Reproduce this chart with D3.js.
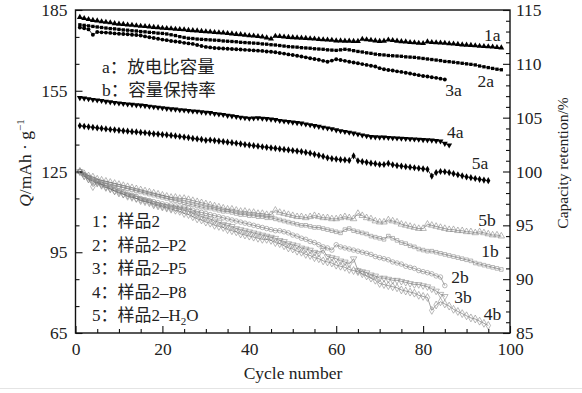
<!DOCTYPE html>
<html><head><meta charset="utf-8">
<script src="https://cdn.jsdelivr.net/npm/d3@7/dist/d3.min.js"></script>
<style>
html,body{margin:0;padding:0;background:#fff;}
text{font-family:'Liberation Serif','Times New Roman','Noto Sans CJK SC',serif;fill:#222;}
</style></head><body>
<svg id="c" width="582" height="393"></svg>
<script>
// ---- data ----
const xTicks = [0,20,40,60,80,100];
const yLeftTicks = [65,95,125,155,185];
const yRightTicks = [85,90,95,100,105,110,115];

// discharge specific capacity (mAh/g), cycle 1..N
const cap1a = [182.3,181.9,181.5,181.2,181.0,180.7,180.5,180.3,180.0,179.8,
179.7,179.5,179.4,179.2,179.0,178.9,178.8,178.6,178.5,178.3,
178.2,178.1,177.9,177.8,177.7,177.5,177.4,177.3,177.1,177.0,
176.9,176.7,176.6,176.5,176.3,176.2,176.0,175.9,175.7,175.5,
175.4,175.2,175.0,174.7,174.3,175.3,175.2,175.0,174.9,174.8,
174.7,174.6,174.5,174.4,174.3,174.1,174.0,173.9,173.8,173.6,
173.6,173.5,173.5,173.4,173.4,174.2,174.0,173.8,173.6,173.4,
173.5,173.9,173.7,173.5,173.3,173.2,173.0,172.9,172.7,172.6,
173.2,173.0,172.9,172.8,172.7,172.5,172.4,172.3,172.1,172.0,
171.9,171.8,171.6,171.5,171.4,171.3,171.1,171.0];
const cap2a = [179.5,179.3,179.1,178.9,178.7,178.5,178.3,178.1,178.0,177.8,
177.6,177.5,177.3,177.2,177.0,176.9,176.7,176.6,176.4,176.3,
176.1,175.8,175.5,175.1,174.8,174.5,174.4,174.2,174.1,174.0,
173.9,173.8,173.7,173.5,173.4,173.3,173.2,173.0,172.9,172.8,
172.7,172.6,172.4,172.3,172.1,172.0,171.8,171.6,171.4,171.3,
171.2,171.0,170.9,170.8,170.6,170.5,170.4,170.2,170.1,170.0,
170.2,170.4,170.2,169.9,169.6,169.4,169.1,168.9,168.6,168.4,
168.3,168.1,168.0,167.9,167.8,167.6,167.5,167.4,167.2,167.0,
166.8,166.6,166.4,166.2,165.9,165.8,165.6,165.4,165.2,165.0,
164.8,164.6,164.2,163.9,163.6,163.3,163.0,162.8];
const cap3a = [178.5,178.2,177.8,175.8,176.8,176.7,176.6,176.5,176.3,176.2,
176.1,176.0,175.8,175.7,175.5,175.2,174.9,174.6,174.3,174.0,
173.8,173.5,173.3,173.1,172.8,172.6,172.4,172.0,171.6,171.3,
171.1,170.9,170.8,170.7,170.6,170.5,170.4,170.3,170.2,170.1,
170.0,169.9,169.8,169.6,169.5,169.3,169.0,168.8,168.5,168.3,
168.0,167.7,167.4,167.1,166.8,166.5,166.1,165.8,166.2,166.7,
166.4,166.1,165.8,165.5,165.2,164.9,164.6,164.3,164.0,163.4,
163.0,162.7,162.5,162.2,162.0,161.7,161.4,161.1,160.8,160.5,
160.3,160.0,159.8,159.5,159.2];
const cap4a = [152.4,152.2,152.0,151.7,151.5,151.3,151.0,150.8,150.6,150.4,
150.2,150.0,149.9,149.7,149.6,149.4,149.2,149.0,148.8,148.6,
148.4,148.2,148.1,147.9,147.8,147.6,147.4,147.3,147.1,146.9,
146.8,146.5,146.3,146.1,145.8,145.6,145.4,145.1,144.9,144.7,
144.8,144.9,144.7,144.6,144.4,144.2,143.9,143.7,143.5,143.3,
143.1,142.9,142.6,142.3,142.0,141.7,141.4,141.1,140.8,140.4,
140.1,139.8,139.5,139.2,138.9,138.5,138.2,137.9,137.8,137.7,
137.7,137.6,137.5,137.4,137.3,137.2,137.1,137.0,136.9,136.8,
136.7,136.6,136.4,136.3,135.4,134.8];
const cap5a = [142.0,141.8,141.6,141.4,141.2,141.0,140.8,140.6,140.5,140.3,
140.1,140.0,139.8,139.7,139.5,139.4,139.2,139.0,138.9,138.7,
138.6,138.4,138.2,138.0,137.8,137.6,137.3,137.1,136.9,136.6,
136.7,136.5,136.3,136.1,135.9,135.7,135.5,135.3,135.0,134.8,
134.6,134.4,134.2,134.0,133.8,133.6,133.4,133.2,133.0,132.8,
132.6,132.4,132.1,131.8,131.4,131.0,130.6,130.1,129.8,129.6,
129.4,129.3,129.1,130.8,129.0,128.7,128.4,128.1,127.9,127.6,
127.6,128.0,127.5,127.2,127.0,126.8,126.6,126.4,126.2,126.0,
125.8,123.3,124.6,125.0,124.9,124.6,124.2,123.8,123.4,123.0,
122.7,122.4,122.1,121.8,121.6];

// capacity retention (%), cycle 1..N
const ret1b = [100.0,99.7,99.5,99.3,99.1,99.0,98.9,98.8,98.7,98.6,
98.5,98.4,98.3,98.2,98.1,98.0,97.9,97.8,97.7,97.6,
97.5,97.4,97.3,97.2,97.1,97.0,96.9,96.8,96.7,96.6,
96.6,96.5,96.4,96.3,96.3,96.2,96.1,96.0,96.0,95.9,
95.9,95.8,95.8,95.7,95.7,95.6,95.5,95.4,95.3,95.2,
95.1,95.0,95.0,94.9,94.8,94.8,94.7,94.6,94.5,94.4,
94.3,94.6,94.7,94.5,94.4,94.3,94.2,94.0,93.9,93.8,
93.7,94.0,93.8,93.6,93.4,93.3,93.1,93.0,92.8,92.7,
92.6,92.6,92.5,92.4,92.3,92.2,92.1,92.0,91.9,91.8,
91.7,91.5,91.4,91.3,91.2,91.1,91.0,90.9];
const ret2b = [100.0,99.7,99.4,99.2,99.0,98.8,98.7,98.5,98.4,98.2,
98.1,97.9,97.8,97.7,97.5,97.4,97.3,97.2,97.1,97.0,
96.9,96.9,96.8,96.7,96.7,96.6,96.4,96.3,96.2,96.1,
96.0,95.9,95.8,95.7,95.6,95.5,95.4,95.3,95.2,95.1,
95.0,94.9,94.8,94.7,94.6,94.5,94.5,94.4,94.3,94.1,
94.0,93.8,93.7,93.5,93.4,93.2,93.0,92.9,92.7,93.2,
93.0,92.9,92.8,92.7,92.6,92.5,92.4,92.3,92.1,92.0,
91.9,91.8,91.6,91.5,91.4,91.2,91.1,91.0,90.8,90.7,
90.6,90.5,90.3,90.2,89.4];
const ret3b = [100.0,99.6,99.3,99.1,98.9,98.7,98.5,98.4,98.2,98.1,
97.9,97.8,97.7,97.5,97.4,97.3,97.2,97.0,96.9,96.8,
96.7,96.6,96.6,96.5,96.4,96.3,96.1,96.0,95.8,95.7,
95.6,95.4,95.3,95.1,95.0,94.9,94.7,94.6,94.5,94.4,
94.3,94.2,94.1,94.0,93.9,93.8,93.6,93.5,93.3,93.2,
93.1,92.9,92.8,92.7,92.5,92.4,92.7,92.1,92.0,91.9,
91.7,91.6,91.4,91.9,90.8,90.7,90.6,90.4,90.3,90.1,
90.1,90.0,89.9,89.9,89.8,89.7,89.6,89.5,89.5,89.4,
89.3,89.1,88.9,88.6,88.4];
const ret4b = [100.0,99.6,99.3,98.6,99.0,98.8,98.6,98.4,98.2,98.0,
97.9,97.7,97.6,97.5,97.3,97.2,97.1,96.9,96.8,96.7,
96.6,96.5,96.4,96.3,96.1,96.0,95.8,95.6,95.5,95.3,
95.2,95.0,94.9,94.8,94.6,94.5,94.4,94.2,94.1,94.0,
93.9,93.8,93.7,93.7,93.6,93.4,93.3,93.1,92.9,92.8,
92.6,92.5,92.3,92.2,92.0,91.9,91.7,91.6,91.5,91.3,
91.2,91.1,90.9,90.8,90.7,90.5,90.3,90.1,89.9,89.6,
89.5,89.4,89.3,89.2,89.0,88.9,88.8,88.7,88.5,88.4,
88.3,87.1,87.6,87.9,87.7,87.5,87.2,87.0,86.8,86.6,
86.4,86.3,86.1,85.9,85.7];
const ret5b = [100.0,99.8,99.6,99.5,99.3,99.2,99.1,99.0,98.9,98.8,
98.7,98.6,98.5,98.4,98.3,98.2,98.1,98.0,97.9,97.8,
97.7,97.6,97.6,97.5,97.5,97.4,97.3,97.2,97.1,97.0,
96.9,96.8,96.7,96.6,96.5,96.5,96.4,96.3,96.3,96.2,
96.2,96.1,96.1,96.0,96.0,96.4,96.2,96.1,96.0,95.9,
95.8,95.8,95.7,95.8,95.9,95.8,95.7,95.7,95.6,95.6,
95.7,95.8,95.7,95.6,96.1,95.9,95.7,95.6,95.4,95.3,
95.3,95.5,95.4,95.3,95.1,95.0,94.9,94.8,94.7,94.7,
95.1,95.0,94.9,94.8,94.7,94.6,94.6,94.5,94.5,94.4,
94.4,94.3,94.4,94.3,94.2,94.1,94.1,94.0];

const seriesA = [
  {name:"1a", values:cap1a, sym:"triangle", lab:[95.9,175.7]},
  {name:"2a", values:cap2a, sym:"square",   lab:[94.4,158.6]},
  {name:"3a", values:cap3a, sym:"circle",   lab:[87.0,155.3]},
  {name:"4a", values:cap4a, sym:"triangleDown", lab:[87.4,139.7]},
  {name:"5a", values:cap5a, sym:"diamond",  lab:[93.1,128.2]}
];
const seriesB = [
  {name:"1b", values:ret1b, sym:"square",   lab:[95.4,92.6]},
  {name:"2b", values:ret2b, sym:"circle",   lab:[88.5,90.2]},
  {name:"3b", values:ret3b, sym:"triangleDown", lab:[89.2,88.3]},
  {name:"4b", values:ret4b, sym:"diamond",  lab:[96.0,86.8]},
  {name:"5b", values:ret5b, sym:"triangle", lab:[94.7,95.5]}
];
const legendAB = ["a：放电比容量","b：容量保持率"];
const legendSamples = ["1：样品2","2：样品2–P2","3：样品2–P5","4：样品2–P8"];

// ---- drawing ----
const svg = d3.select("#c");
const L=75.5, R=510, T=10, B=333;
const x = d3.scaleLinear().domain([0,100]).range([L,R]);
const yL = d3.scaleLinear().domain([65,185]).range([B,T]);
const yR = d3.scaleLinear().domain([85,115]).range([B,T]);
const FS = 17.5;

svg.append("rect").attr("width",582).attr("height",393).attr("fill","#fff");
svg.append("line").attr("x1",0).attr("x2",582).attr("y1",388.5).attr("y2",388.5).attr("stroke","#e4e4e4");

function symPath(name, size){
  const m = {triangle:d3.symbolTriangle, triangleDown:d3.symbolTriangle, square:d3.symbolSquare, circle:d3.symbolCircle, diamond:d3.symbolDiamond};
  return d3.symbol(m[name], size)();
}

const g = svg.append("g");
const line = (ys) => d3.line().x((d,i)=>x(i+1)).y(d=>ys(d));

// b series (open markers)
seriesB.forEach(s=>{
  g.append("path").datum(s.values).attr("d", line(yR)).attr("fill","none")
   .attr("stroke","#444").attr("stroke-width",0.5);
  g.selectAll(null).data(s.values).join("path")
   .attr("d", symPath(s.sym, s.sym==="circle"?16:(s.sym==="square"?13:18)))
   .attr("transform",(d,i)=>`translate(${x(i+1)},${yR(d)})${s.sym==="triangleDown"?" rotate(180)":""}`)
   .attr("fill","none").attr("stroke","#8a8a8a").attr("stroke-width",0.6);
});
// a series (filled markers)
seriesA.forEach(s=>{
  g.append("path").datum(s.values).attr("d", line(yL)).attr("fill","none")
   .attr("stroke","#000").attr("stroke-width",0.8);
  g.selectAll(null).data(s.values).join("path")
   .attr("d", symPath(s.sym, s.sym==="circle"?12:(s.sym==="square"?11:15)))
   .attr("transform",(d,i)=>`translate(${x(i+1)},${yL(d)})${s.sym==="triangleDown"?" rotate(180)":""}`)
   .attr("fill","#000");
});

// frame
svg.append("rect").attr("x",L).attr("y",T).attr("width",R-L).attr("height",B-T)
  .attr("fill","none").attr("stroke","#111").attr("stroke-width",1.4);

// axes
function styleAxis(sel){
  sel.select(".domain").remove();
  sel.selectAll(".tick line").attr("stroke","#111").attr("stroke-width",1.1);
  sel.selectAll(".tick text").style("font-size",FS+"px").attr("fill","#222")
     .style("font-family","'Liberation Serif','Times New Roman',serif");
}
const xMinor = d3.range(0,101,5).filter(v=>v%20!==0);
svg.append("g").attr("transform",`translate(0,${B})`)
  .call(d3.axisBottom(x).tickValues(xMinor).tickSize(-4).tickFormat(""))
  .call(styleAxis);
svg.append("g").attr("transform",`translate(0,${B})`)
  .call(d3.axisBottom(x).tickValues(xTicks).tickSize(-7).tickPadding(10).tickFormat(d3.format("d")))
  .call(styleAxis);

const yLMinor = d3.range(65,186,10).filter(v=>!yLeftTicks.includes(v));
svg.append("g").attr("transform",`translate(${L},0)`)
  .call(d3.axisLeft(yL).tickValues(yLMinor).tickSize(-4).tickFormat(""))
  .call(styleAxis);
svg.append("g").attr("transform",`translate(${L},0)`)
  .call(d3.axisLeft(yL).tickValues(yLeftTicks).tickSize(-7).tickPadding(8).tickFormat(d3.format("d")))
  .call(styleAxis);

const yRMinor = d3.range(85,116,1).filter(v=>v%5!==0);
svg.append("g").attr("transform",`translate(${R},0)`)
  .call(d3.axisRight(yR).tickValues(yRMinor).tickSize(-4).tickFormat(""))
  .call(styleAxis);
svg.append("g").attr("transform",`translate(${R},0)`)
  .call(d3.axisRight(yR).tickValues(yRightTicks).tickSize(-7).tickPadding(6).tickFormat(d3.format("d")))
  .call(styleAxis);

// axis titles
svg.append("text").attr("x",293).attr("y",379).attr("text-anchor","middle")
  .style("font-size",FS+"px").text("Cycle number");
const lt = svg.append("text").attr("transform","translate(31,163) rotate(-90)")
  .attr("text-anchor","middle").style("font-size",FS+"px");
lt.append("tspan").style("font-style","italic").text("Q");
lt.append("tspan").text("/mAh · g");
lt.append("tspan").attr("dy",-7).style("font-size","11px").text("−1");
svg.append("text").attr("transform","translate(568,163) rotate(-90)")
  .attr("text-anchor","middle").style("font-size","15.5px").text("Capacity retention/%");

// series labels
seriesA.forEach(s=>{
  svg.append("text").attr("x",x(s.lab[0])).attr("y",yL(s.lab[1])+6).attr("text-anchor","middle")
    .style("font-size",FS+"px").text(s.name);
});
seriesB.forEach(s=>{
  svg.append("text").attr("x",x(s.lab[0])).attr("y",yR(s.lab[1])+6).attr("text-anchor","middle")
    .style("font-size",FS+"px").text(s.name);
});

// legends
legendAB.forEach((t,i)=>{
  svg.append("text").attr("x",102).attr("y",73+i*22.5).style("font-size","17.5px").text(t);
});
legendSamples.forEach((t,i)=>{
  svg.append("text").attr("x",92).attr("y",227+i*23.5).style("font-size","17px").text(t);
});
const l5 = svg.append("text").attr("x",92).attr("y",227+4*23.5).style("font-size","17px");
l5.append("tspan").text("5：样品2–H");
l5.append("tspan").attr("dy",4).style("font-size","11px").text("2");
l5.append("tspan").attr("dy",-4).text("O");
</script>
</body></html>
